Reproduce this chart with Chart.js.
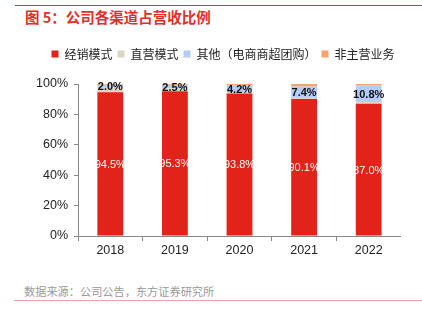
<!DOCTYPE html>
<html lang="zh">
<head>
<meta charset="UTF-8">
<title>公司各渠道占营收比例</title>
<script src="https://cdn.jsdelivr.net/npm/chart.js@4/dist/chart.umd.min.js"></script>
<style>
  body { margin: 0; background: #fff; width: 422px; height: 335px; overflow: hidden; position: relative;
         font-family: "Liberation Sans", "Noto Sans CJK SC", sans-serif; }
  .topline { position: absolute; left: 15px; top: 5px; width: 407px; height: 1px; background: #e0302a; }
  .title { position: absolute; left: 25px; top: 6px; font-size: 14.5px; font-weight: bold; color: #e0302a;
           font-family: "Noto Sans CJK SC", sans-serif; }
  .source { position: absolute; left: 24px; top: 283px; font-size: 11.2px; color: #9a9a9a;
            font-family: "Noto Sans CJK SC", sans-serif; }
  .botline { position: absolute; left: 14px; top: 300px; width: 408px; height: 1px; background: #f0a0a0; }
  .wrap { position: absolute; left: 0; top: 43px; width: 401px; height: 217px; }
</style>
</head>
<body>
<div class="topline"></div>
<div class="title">图 5：公司各渠道占营收比例</div>
<div class="wrap"><canvas id="c"></canvas></div>
<div class="source">数据来源：公司公告，东方证券研究所</div>
<div class="botline"></div>
<script>
// data (share of revenue, %)
const years = ["2018", "2019", "2020", "2021", "2022"];
const dealer = [94.5, 95.3, 93.8, 90.1, 87.0];
const direct = [3.0, 1.7, 1.0, 0.8, 1.2];
const others = [2.0, 2.5, 4.2, 7.4, 10.8];
const nonCore = [0.5, 0.5, 1.0, 1.7, 1.0];
const names = ["经销模式", "直营模式", "其他（电商商超团购）", "非主营业务"];

const fontFam = '"Liberation Sans", "Noto Sans CJK SC", sans-serif';

// value labels on the red and blue segments
const labelPlugin = {
  id: 'vals',
  afterDatasetsDraw(chart) {
    const ctx = chart.ctx;
    ctx.save();
    ctx.textAlign = 'center';
    ctx.textBaseline = 'middle';
    [0, 2].forEach(di => {
      const meta = chart.getDatasetMeta(di);
      meta.data.forEach((bar, i) => {
        const v = chart.data.datasets[di].data[i];
        const y = (bar.y + bar.base) / 2;
        if (di == 0) {
          ctx.fillStyle = '#fff';
          ctx.font = '11px ' + fontFam;
        } else {
          ctx.fillStyle = '#111';
          ctx.font = 'bold 11px ' + fontFam;
        }
        ctx.fillText(v.toFixed(1) + '%', bar.x, y + 1);
      });
    });
    ctx.restore();
  }
};

// extra room under the legend, and nudge it right
const legendGap = {
  id: 'legendGap',
  beforeInit(chart) {
    const fit = chart.legend.fit;
    chart.legend.fit = function () {
      fit.bind(chart.legend)();
      this.height += 14;
    };
  },
  afterLayout(chart) {
    chart.legend.left += 17;
  }
};

new Chart(document.getElementById('c'), {
  type: 'bar',
  data: {
    labels: years,
    datasets: [
      { label: names[0], data: dealer, backgroundColor: '#e2231a' },
      { label: names[1], data: direct, backgroundColor: '#ddd5c1' },
      { label: names[2], data: others, backgroundColor: '#b3cdf6' },
      { label: names[3], data: nonCore, backgroundColor: '#f6a46b' }
    ]
  },
  options: {
    responsive: true,
    maintainAspectRatio: false,
    animation: false,
    datasets: { bar: { barPercentage: 0.4, categoryPercentage: 1.0, borderWidth: 0 } },
    layout: { padding: { left: 28, right: 0, top: 0, bottom: 0 } },
    plugins: {
      tooltip: { enabled: false },
      legend: {
        position: 'top',
        labels: {
          boxWidth: 7, boxHeight: 7, padding: 5,
          color: '#222',
          font: { size: 12, family: '"Noto Sans CJK SC", sans-serif' }
        }
      }
    },
    scales: {
      x: {
        stacked: true,
        border: { color: '#888' },
        grid: { drawOnChartArea: false, tickLength: 5, color: '#888' },
        ticks: { color: '#222', font: { size: 12.5, family: fontFam }, padding: 2 }
      },
      y: {
        stacked: true,
        min: 0, max: 100,
        afterFit(s) { s.width = 50; },
        border: { color: '#888' },
        grid: { drawOnChartArea: false, tickLength: 4, color: '#888' },
        ticks: { stepSize: 20, color: '#222', font: { size: 12.5, family: fontFam }, padding: 6,
                 callback: v => v + '%' }
      }
    }
  },
  plugins: [labelPlugin, legendGap]
});
</script>
</body>
</html>
